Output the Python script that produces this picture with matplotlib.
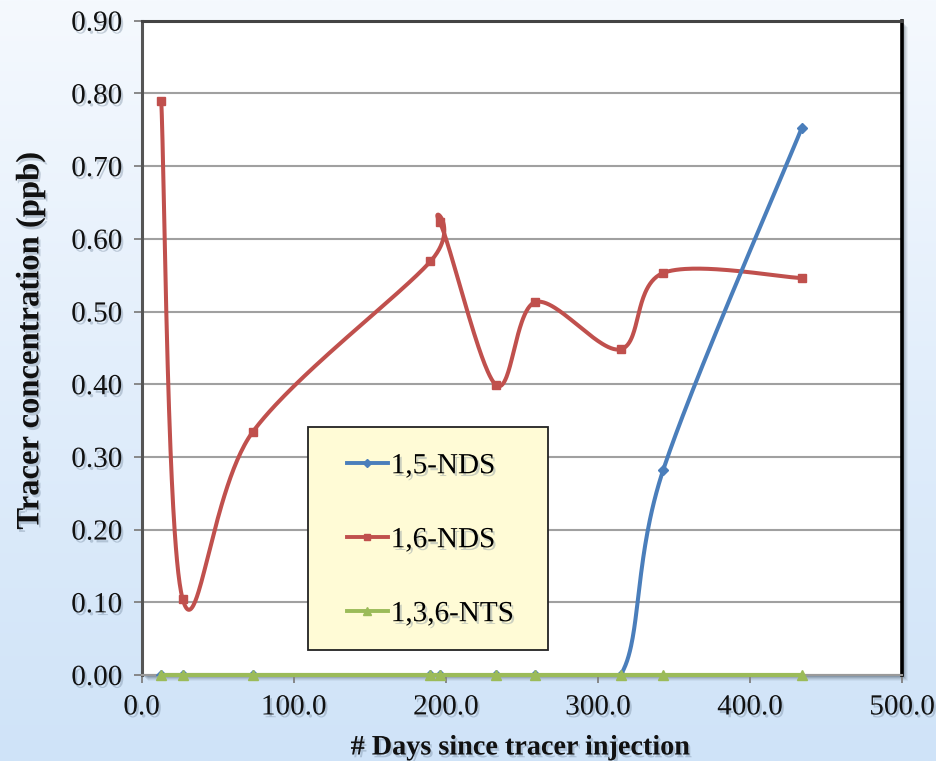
import numpy as np
import matplotlib
matplotlib.use("Agg")
import matplotlib.pyplot as plt
import matplotlib.patheffects as pe
from matplotlib.patches import Rectangle
from matplotlib.lines import Line2D

# ---- data -------------------------------------------------------------
days = [13, 27, 73, 190, 196, 233, 259, 315, 343, 434]
nds_15 = [0.0, 0.0, 0.0, 0.0, 0.0, 0.0, 0.0, 0.0, 0.282, 0.752]
nds_16 = [0.790, 0.105, 0.334, 0.569, 0.623, 0.399, 0.513, 0.448, 0.553, 0.546]
nts_136 = [0.0, 0.0, 0.0, 0.0, 0.0, 0.0, 0.0, 0.0, 0.0, 0.0]

series_names = ["1,5-NDS", "1,6-NDS", "1,3,6-NTS"]
x_ticks = [0, 100, 200, 300, 400, 500]
y_ticks = [0.0, 0.1, 0.2, 0.3, 0.4, 0.5, 0.6, 0.7, 0.8, 0.9]
x_title = "# Days since tracer injection"
y_title = "Tracer concentration (ppb)"

BLUE, RED, GREEN = "#4a7ebb", "#c0504d", "#9bbb59"


def smooth_curve(xs, ys, n=60):
    """Spreadsheet-style smoothed line: cubic Bezier segments whose control
    points follow the Catmull-Rom rule (neighbour difference / 6)."""
    pts = np.column_stack([xs, ys]).astype(float)
    out = []
    for i in range(len(pts) - 1):
        p0 = pts[i - 1] if i > 0 else pts[i]
        p1, p2 = pts[i], pts[i + 1]
        p3 = pts[i + 2] if i + 2 < len(pts) else pts[i + 1]
        c1 = p1 + (p2 - p0) / 6.0
        c2 = p2 - (p3 - p1) / 6.0
        t = np.linspace(0, 1, n)[:, None]
        seg = ((1 - t) ** 3) * p1 + 3 * ((1 - t) ** 2) * t * c1 \
            + 3 * (1 - t) * t ** 2 * c2 + t ** 3 * p2
        out.append(seg if i == 0 else seg[1:])
    pts = np.vstack(out)
    return pts[:, 0], pts[:, 1]


plt.rcParams["font.family"] = ["Liberation Serif", "DejaVu Serif"]

W, H = 936, 761
fig = plt.figure(figsize=(W / 100, H / 100), dpi=100)

# soft blue gradient behind everything
bg = fig.add_axes([0, 0, 1, 1], zorder=-10)
grad = np.linspace(0, 1, 256)[:, None, None]
top_c = np.array([245, 249, 254]) / 255.0
bot_c = np.array([207, 227, 248]) / 255.0
img = top_c * (1 - grad) + bot_c * grad
bg.imshow(img, aspect="auto", extent=[0, 1, 0, 1], origin="upper")
bg.set_axis_off()

# plot area in pixels
L, R, T, B = 141.5, 902.0, 20.7, 675.0
ax_rect = [L / W, 1 - B / H, (R - L) / W, (B - T) / H]

# drop shadow of the plot area
for k, a in zip(range(6, 0, -1), [0.05, 0.07, 0.09, 0.12, 0.15, 0.2]):
    fig.patches.append(Rectangle(((L + k) / W, 1 - (B + k) / H),
                                 (R - L) / W, (B - T) / H,
                                 transform=fig.transFigure,
                                 facecolor="#1a2a3a", alpha=a,
                                 edgecolor="none", zorder=-5))

ax = fig.add_axes(ax_rect)
ax.set_facecolor("white")
ax.set_xlim(0, 500)
ax.set_ylim(0, 0.9)

ax.set_yticks(y_ticks)
ax.set_yticklabels([f"{v:.2f}" for v in y_ticks])
ax.set_xticks(x_ticks)
ax.set_xticklabels([f"{v:.1f}" for v in x_ticks])
ax.grid(axis="y", color="#a0a0a0", lw=1.5)
ax.set_axisbelow(True)
ax.tick_params(axis="both", direction="out", length=6, width=1.3,
               color="#808080", labelsize=21, labelcolor="#111111", pad=8)

for side, col, lw in [("left", "#555555", 2.2), ("top", "#444444", 2.2),
                      ("right", "#000000", 2.6), ("bottom", "#9a9a9a", 1.5)]:
    ax.spines[side].set_color(col)
    ax.spines[side].set_linewidth(lw)

shadow = [pe.withSimplePatchShadow(offset=(1.5, -2.0), shadow_rgbFace="#6b7f95",
                                   alpha=0.35)]
for lab in ax.get_xticklabels() + ax.get_yticklabels():
    lab.set_path_effects(shadow)

# series: 1,6-NDS below 1,5-NDS, 1,3,6-NTS on top
sx, sy = smooth_curve(days, nds_16)
ax.plot(sx, sy, color=RED, lw=2.9, solid_capstyle="round", zorder=3)
ax.plot(days, nds_16, ls="none", marker="s", ms=5.2, color=RED, zorder=3)

sx, sy = smooth_curve(days, nds_15)
ax.plot(sx, sy, color=BLUE, lw=2.9, solid_capstyle="round", zorder=4)
ax.plot(days, nds_15, ls="none", marker="D", ms=5.2, color=BLUE, zorder=4)

sx, sy = smooth_curve(days, nts_136)
ax.plot(sx, sy, color=GREEN, lw=3.0, zorder=5, clip_on=False)
ax.plot(days, nts_136, ls="none", marker="^", ms=7.5, color=GREEN, zorder=5,
        clip_on=False)

# axis titles
fig.text(30 / W, 1 - 341 / H, y_title, rotation=90, ha="center", va="center",
         fontsize=23.5, fontweight="bold", color="#111111", path_effects=shadow)
fig.text(521 / W, 1 - 748 / H, x_title, ha="center", va="center",
         fontsize=20.3, fontweight="bold", color="#111111", path_effects=shadow)

# legend box
lx0, ly0, lx1, ly1 = 308, 427, 548, 650
fig.patches.append(Rectangle((lx0 / W, 1 - ly1 / H), (lx1 - lx0) / W,
                             (ly1 - ly0) / H, transform=fig.transFigure,
                             facecolor="#fffbd6", edgecolor="#222222",
                             lw=1.3, zorder=6))
handles = [
    Line2D([], [], color=BLUE, lw=2.8, marker="D", ms=4.5),
    Line2D([], [], color=RED, lw=2.8, marker="s", ms=4.5),
    Line2D([], [], color=GREEN, lw=2.8, marker="^", ms=6),
]
leg = fig.legend(handles, series_names, loc="center left",
                 bbox_to_anchor=(347 / W, 1 - 540 / H),
                 frameon=False, fontsize=21, handlelength=1.4,
                 handletextpad=0.1, labelspacing=1.63, borderpad=0,
                 borderaxespad=0)
leg.set_zorder(7)
for t in leg.get_texts():
    t.set_path_effects(shadow)

fig.savefig("out.png", dpi=100)
